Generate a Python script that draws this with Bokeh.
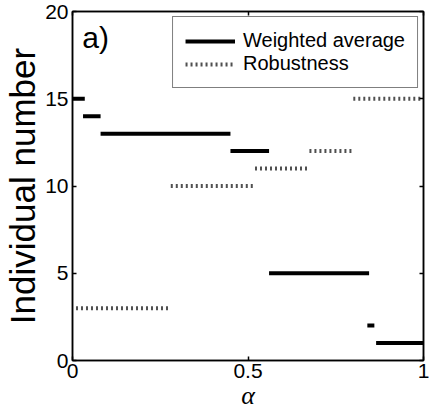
from bokeh.plotting import figure
from bokeh.models import (ColumnDataSource, LinearAxis, FixedTicker, Range1d,
                          Label, Legend, LegendItem)
from bokeh.embed import file_html
from bokeh.resources import INLINE

# Weighted-average ranking: individual chosen over each alpha interval
wa_individual = [15, 14, 13, 12, 5, 2, 1]
wa_alpha_start = [0.0, 0.03, 0.08, 0.45, 0.56, 0.84, 0.865]
wa_alpha_end = [0.035, 0.08, 0.45, 0.56, 0.845, 0.86, 1.0]

# Robustness ranking
rb_individual = [3, 10, 11, 12, 15]
rb_alpha_start = [0.01, 0.28, 0.52, 0.675, 0.80]
rb_alpha_end = [0.28, 0.52, 0.675, 0.80, 1.0]

x_ticks = [0, 0.5, 1]
x_tick_labels = {0: "0", 0.5: "0.5", 1: "1"}
y_ticks = [0, 5, 10, 15, 20]

FONT = "Liberation Sans"

wa_src = ColumnDataSource(dict(x0=wa_alpha_start, x1=wa_alpha_end, y=wa_individual))
rb_src = ColumnDataSource(dict(x0=rb_alpha_start, x1=rb_alpha_end, y=rb_individual))

p = figure(width=429, height=413, output_backend="svg", toolbar_location=None,
           x_range=Range1d(0, 1), y_range=Range1d(0, 20),
           min_border_left=72, min_border_right=6, min_border_top=11,
           min_border_bottom=53)
p.grid.visible = False
p.background_fill_color = "white"
p.border_fill_color = "white"
p.outline_line_color = "black"
p.outline_line_width = 1.5

r_wa = p.segment(x0="x0", x1="x1", y0="y", y1="y", source=wa_src,
                 line_color="black", line_width=4)
r_rb = p.segment(x0="x0", x1="x1", y0="y", y1="y", source=rb_src,
                 line_color="#505050", line_width=4, line_dash="2 3")

# Main axes
for ax in (p.xaxis[0], p.yaxis[0]):
    ax.axis_line_color = "black"
    ax.axis_line_width = 1.5
    ax.major_tick_in = 4
    ax.major_tick_out = 0
    ax.minor_tick_line_color = None
    ax.major_tick_line_color = "black"
    ax.major_tick_line_width = 1.5
    ax.major_label_text_font = FONT
    ax.major_label_text_font_size = "21px"
    ax.major_label_text_color = "black"
    ax.axis_label_text_font_style = "normal"
    ax.axis_label_text_color = "black"

p.xaxis[0].ticker = FixedTicker(ticks=x_ticks)
p.xaxis[0].major_label_overrides = x_tick_labels
p.xaxis[0].major_label_standoff = 3
p.xaxis[0].axis_label = "α"
p.xaxis[0].axis_label_text_font = "Liberation Serif"
p.xaxis[0].axis_label_text_font_style = "italic"
p.xaxis[0].axis_label_text_font_size = "26px"
p.xaxis[0].axis_label_standoff = 0

p.yaxis[0].ticker = FixedTicker(ticks=y_ticks)
p.yaxis[0].major_label_standoff = 4
p.yaxis[0].axis_label = "Individual number"
p.yaxis[0].axis_label_text_font = FONT
p.yaxis[0].axis_label_text_font_size = "35px"
p.yaxis[0].axis_label_standoff = 0

# Inward ticks on the top and right edges of the box
def box_axis(ticks):
    return LinearAxis(ticker=FixedTicker(ticks=ticks), major_tick_in=4, major_tick_out=0,
                      minor_tick_line_color=None, major_label_text_font_size="1px",
                      major_label_text_alpha=0, major_label_standoff=0,
                      axis_line_color="black", axis_line_width=1.5,
                      major_tick_line_width=1.5)

p.add_layout(box_axis(x_ticks), "above")
p.add_layout(box_axis(y_ticks), "right")

legend = Legend(items=[LegendItem(label="Weighted average", renderers=[r_wa]),
                       LegendItem(label="Robustness", renderers=[r_rb])],
                location="top_right")
legend.label_text_font = FONT
legend.label_text_font_size = "20px"
legend.label_text_color = "black"
legend.glyph_width = 50
legend.glyph_height = 18
legend.label_height = 18
legend.label_standoff = 8
legend.padding = 12
legend.spacing = 0
legend.margin = 5
legend.border_line_color = "black"
legend.border_line_width = 1.5
legend.background_fill_alpha = 1.0
p.add_layout(legend)

p.add_layout(Label(x=0.028, y=18.5, text="a)", text_font=FONT, text_font_size="30px",
                   text_baseline="middle", text_color="black"))

open("out.html", "w").write(file_html(p, INLINE))
